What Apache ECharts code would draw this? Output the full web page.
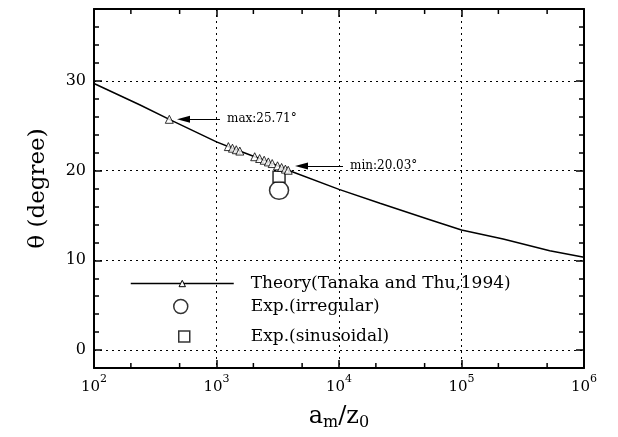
<!DOCTYPE html>
<html><head><meta charset="utf-8">
<script src="https://cdn.jsdelivr.net/npm/echarts@6/dist/echarts.min.js"></script>
<style>html,body{margin:0;padding:0;background:#fff}#c{width:618px;height:437px}</style>
</head><body><div id="c"></div>
<script>
// ---- data ----
const theoryName = 'Theory(Tanaka and Thu,1994)';
const irregularName = 'Exp.(irregular)';
const sinusoidalName = 'Exp.(sinusoidal)';

const curveX = [100, 238, 412, 1000, 1400, 2500, 3850, 10000, 21600, 53600, 100000, 218800, 525000, 1000000];
const curveY = [29.7, 27.3, 25.71, 23.2, 22.4, 21.1, 20.03, 17.9, 16.36, 14.58, 13.37, 12.38, 11.07, 10.34];

const triX = [412, 1250, 1350, 1450, 1550, 2050, 2250, 2450, 2650, 2850, 3150, 3400, 3650, 3850];
const triY = [25.71, 22.67, 22.49, 22.32, 22.17, 21.54, 21.34, 21.15, 20.96, 20.78, 20.53, 20.34, 20.16, 20.03];

const irregularX = [3240];
const irregularY = [17.8];
const sinusoidalX = [3240];
const sinusoidalY = [19.3];

const maxNote = { fromX: 1068, toX: 538, y: 25.71, text: 'max:25.71°' };
const minNote = { fromX: 10782, toX: 4943, y: 20.5, text: 'min:20.03°' };

const xMinorTicks = [200, 500, 2000, 5000, 20000, 50000, 200000, 500000];
const yTickLabels = [0, 10, 20, 30];

// ---- chart ----
const FONT = 'DejaVu Serif';
const chart = echarts.init(document.getElementById('c'));
const zip = (xs, ys) => xs.map((x, i) => [x, ys[i]]);

const dotted = { type: [2, 4], color: '#000', width: 1 };
const borderLine = { show: true, onZero: false, lineStyle: { color: '#000', width: 2 } };
const noLine = { show: false, onZero: false };

const option = {
  animation: false,
  backgroundColor: '#fff',
  grid: { left: 94, right: 34, top: 9, bottom: 69, containLabel: false, outerBoundsMode: 'none' },
  xAxis: [
    {
      type: 'log', logBase: 10, min: 100, max: 1000000, position: 'bottom',
      axisLine: borderLine,
      axisTick: { show: true, inside: true, length: 8, lineStyle: { color: '#000', width: 1.5 } },
      axisLabel: {
        color: '#000', margin: 6,
        formatter: v => '{b|10}{s|' + Math.round(Math.log10(v)) + '}',
        rich: {
          b: { fontFamily: FONT, fontSize: 15, color: '#000', lineHeight: 26 },
          s: { fontFamily: FONT, fontSize: 11, color: '#000', lineHeight: 12, verticalAlign: 'top' }
        }
      },
      splitLine: { show: true, lineStyle: dotted },
      name: '{a|a}{u|m}{a|/z}{u|0}',
      nameLocation: 'middle', nameGap: 35,
      nameTextStyle: {
        rich: {
          a: { fontFamily: FONT, fontSize: 24, color: '#000', lineHeight: 28 },
          u: { fontFamily: FONT, fontSize: 16, color: '#000', lineHeight: 16, verticalAlign: 'bottom' }
        }
      }
    },
    {
      type: 'log', logBase: 10, min: 100, max: 1000000, position: 'top',
      axisLine: borderLine,
      axisTick: { show: true, inside: true, length: 8, lineStyle: { color: '#000', width: 1.5 } },
      axisLabel: { show: false },
      splitLine: { show: false }
    }
  ],
  yAxis: [
    {
      type: 'value', min: -2, max: 38, position: 'left',
      axisLine: borderLine,
      axisTick: { show: true, inside: true, length: 8, lineStyle: { color: '#000', width: 1.5 } },
      axisLabel: {
        color: '#000', fontFamily: FONT, fontSize: 16, margin: 8,
        formatter: v => (yTickLabels.indexOf(v) >= 0 ? String(v) : '')
      },
      splitLine: { show: true, lineStyle: dotted },
      name: 'θ (degree)', nameLocation: 'middle', nameGap: 44, nameRotate: 90,
      nameTextStyle: { fontFamily: FONT, fontSize: 23, color: '#000' }
    },
    {
      type: 'value', min: -2, max: 38, interval: 2, position: 'left',
      axisLine: noLine,
      axisTick: { show: true, inside: true, length: 5, lineStyle: { color: '#000', width: 1.5 } },
      axisLabel: { show: false }, splitLine: { show: false }
    },
    {
      type: 'value', min: -2, max: 38, position: 'right',
      axisLine: borderLine,
      axisTick: { show: true, inside: true, length: 8, lineStyle: { color: '#000', width: 1.5 } },
      axisLabel: { show: false }, splitLine: { show: false }
    },
    {
      type: 'value', min: -2, max: 38, interval: 2, position: 'right',
      axisLine: noLine,
      axisTick: { show: true, inside: true, length: 5, lineStyle: { color: '#000', width: 1.5 } },
      axisLabel: { show: false }, splitLine: { show: false }
    }
  ],
  legend: [
    {
      data: [theoryName], orient: 'vertical', left: 130, top: 275, padding: 0,
      itemWidth: 103, itemHeight: 8, selectedMode: false,
      itemStyle: { color: '#fff', borderColor: '#000', borderWidth: 1 },
      lineStyle: { color: '#000', width: 1.5 },
      textStyle: { fontFamily: FONT, fontSize: 17, color: '#000', padding: [0, 0, 0, 12] }
    },
    {
      data: [{ name: irregularName, icon: 'circle' }], orient: 'vertical', left: 173, top: 298, padding: 0,
      itemWidth: 14, itemHeight: 14, selectedMode: false,
      itemStyle: { color: '#fff', borderColor: '#000', borderWidth: 1.5 },
      textStyle: { fontFamily: FONT, fontSize: 17, color: '#000', padding: [0, 0, 0, 58] }
    },
    {
      data: [{ name: sinusoidalName, icon: 'rect' }], orient: 'vertical', left: 178, top: 328, padding: 0,
      itemWidth: 11, itemHeight: 11, selectedMode: false,
      itemStyle: { color: '#fff', borderColor: '#000', borderWidth: 1.5 },
      textStyle: { fontFamily: FONT, fontSize: 17, color: '#000', padding: [0, 0, 0, 56] }
    }
  ],
  series: [
    {
      type: 'line', name: theoryName, data: zip(curveX, curveY),
      symbol: 'triangle', showSymbol: false, color: '#fff',
      itemStyle: { color: '#fff', borderColor: '#000', borderWidth: 1 },
      lineStyle: { color: '#000', width: 1.5 }, z: 3
    },
    {
      type: 'scatter', name: 'theory-points', data: zip(triX, triY),
      symbol: 'triangle', symbolSize: 8,
      itemStyle: { color: '#fff', borderColor: '#000', borderWidth: 1 }, z: 4,
      markLine: {
        silent: true, animation: false,
        symbol: ['none', 'triangle'], symbolSize: [7, 13],
        lineStyle: { color: '#000', width: 1, type: 'solid' },
        itemStyle: { color: '#000' },
        label: { show: true, position: 'start', distance: 7, formatter: '{b}', fontFamily: FONT, fontSize: 12, color: '#000' },
        data: [
          [{ coord: [maxNote.fromX, maxNote.y], name: maxNote.text }, { coord: [maxNote.toX, maxNote.y] }],
          [{ coord: [minNote.fromX, minNote.y], name: minNote.text }, { coord: [minNote.toX, minNote.y] }]
        ]
      }
    },
    {
      type: 'scatter', name: irregularName, data: zip(irregularX, irregularY),
      symbol: 'circle', symbolSize: [19, 18],
      itemStyle: { color: '#fff', borderColor: '#000', borderWidth: 1.5 }, z: 2
    },
    {
      type: 'scatter', name: sinusoidalName, data: zip(sinusoidalX, sinusoidalY),
      symbol: 'rect', symbolSize: [12, 11],
      itemStyle: { color: '#fff', borderColor: '#000', borderWidth: 1.5 }, z: 2
    },
    {
      type: 'custom', name: 'x-minor-ticks', silent: true, clip: false,
      data: xMinorTicks.map(v => [v, 0]),
      encode: { x: 0, y: 1 },
      renderItem: (params, api) => {
        const x = api.coord([api.value(0), api.value(1)])[0];
        const cs = params.coordSys;
        const st = { stroke: '#000', lineWidth: 1.5 };
        return {
          type: 'group', children: [
            { type: 'line', shape: { x1: x, y1: cs.y + cs.height, x2: x, y2: cs.y + cs.height - 5 }, style: st },
            { type: 'line', shape: { x1: x, y1: cs.y, x2: x, y2: cs.y + 5 }, style: st }
          ]
        };
      }
    }
  ]
};
chart.setOption(option);
</script>
</body></html>
